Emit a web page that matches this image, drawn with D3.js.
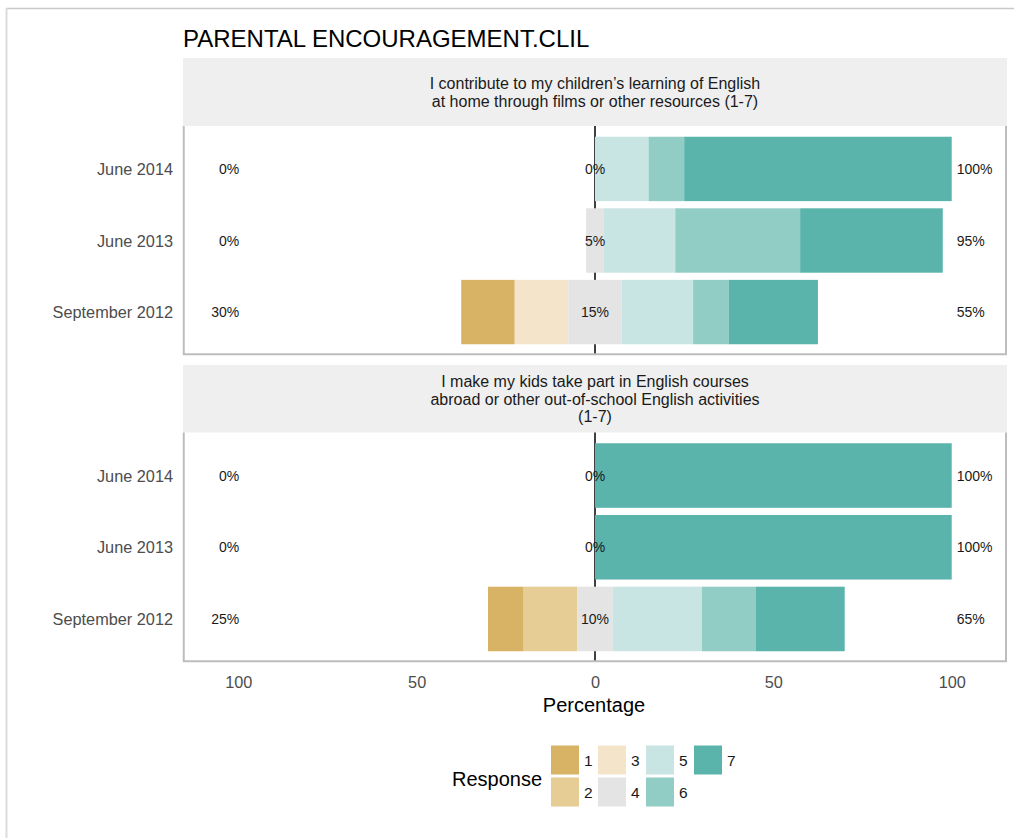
<!DOCTYPE html>
<html>
<head>
<meta charset="utf-8">
<script src="https://cdn.jsdelivr.net/npm/d3@7/dist/d3.min.js"></script>
<style>
  html, body { margin: 0; padding: 0; background: #fff; }
  svg { display: block; font-family: "Liberation Sans", Arial, sans-serif; }
</style>
</head>
<body>
<svg id="chart" width="1014" height="838"></svg>
<script>
// Survey waves (top to bottom within each panel)
const waves = ["June 2014", "June 2013", "September 2012"];

// Response levels 1..7 and their fills
const responses = ["1", "2", "3", "4", "5", "6", "7"];
const responseColors = ["#D8B365", "#E6CC95", "#F4E5CA", "#E4E4E4", "#C8E5E3", "#92CDC5", "#5AB4AC"];

// Panel titles (strip text, one array entry per line)
const items = [
  ["I contribute to my children’s learning of English", "at home through films or other resources (1-7)"],
  ["I make my kids take part in English courses", "abroad or other out-of-school English activities", "(1-7)"]
];

// Percent of answers per response level, one row per wave
const itemFilms = [
  [0, 0, 0, 0, 15, 10, 75],
  [0, 0, 0, 5, 20, 35, 40],
  [15, 0, 15, 15, 20, 10, 25]
];
const itemCourses = [
  [0, 0, 0, 0, 0, 0, 100],
  [0, 0, 0, 0, 0, 0, 100],
  [10, 15, 0, 10, 25, 15, 25]
];
const panelValues = [itemFilms, itemCourses];

const xTicks = [-100, -50, 0, 50, 100];

const svg = d3.select("#chart");

// outer frame lines
svg.append("line").attr("x1", 6).attr("x2", 1014).attr("y1", 8.5).attr("y2", 8.5)
  .attr("stroke", "#c9c9c9").attr("stroke-width", 1.5);
svg.append("line").attr("x1", 6.5).attr("x2", 6.5).attr("y1", 8).attr("y2", 838)
  .attr("stroke", "#dcdcdc").attr("stroke-width", 2);

const left = 183, right = 1007;
const x = d3.scaleLinear().domain([-115.5, 115.5]).range([left, right]);

// title
svg.append("text").attr("x", left).attr("y", 47)
  .attr("font-size", 24).attr("fill", "#000")
  .text("PARENTAL ENCOURAGEMENT.CLIL");

const panels = [
  { stripTop: 58, stripBottom: 126, plotBottom: 355 },
  { stripTop: 365, stripBottom: 432.5, plotBottom: 662 }
];

const labelSize = 14;

panels.forEach((p, pi) => {
  const g = svg.append("g");
  // strip
  g.append("rect").attr("x", left).attr("y", p.stripTop)
    .attr("width", right - left).attr("height", p.stripBottom - p.stripTop)
    .attr("fill", "#efefef");
  const lines = items[pi];
  const lh = 17.5;
  const mid = (p.stripTop + p.stripBottom) / 2;
  lines.forEach((ln, li) => {
    g.append("text")
      .attr("x", (left + right) / 2)
      .attr("y", mid + (li - (lines.length - 1) / 2) * lh + 6)
      .attr("text-anchor", "middle").attr("font-size", 16).attr("fill", "#1a1a1a")
      .text(ln);
  });

  const y = d3.scalePoint().domain(waves).range([p.stripBottom, p.plotBottom]).padding(0.6);
  const bh = y.step() * 0.9;

  // zero reference line (behind the bars)
  g.append("line").attr("x1", x(0)).attr("x2", x(0))
    .attr("y1", p.stripBottom).attr("y2", p.plotBottom)
    .attr("stroke", "#000").attr("stroke-width", 1.5);

  const vals = panelValues[pi];
  waves.forEach((w, wi) => {
    const v = vals[wi];
    const low = v[0] + v[1] + v[2];
    const neutral = v[3];
    const high = v[4] + v[5] + v[6];
    let start = -neutral / 2 - low;
    v.forEach((val, ri) => {
      if (val > 0) {
        g.append("rect")
          .attr("x", x(start)).attr("width", x(start + val) - x(start))
          .attr("y", y(w) - bh / 2).attr("height", bh)
          .attr("fill", responseColors[ri]);
      }
      start += val;
    });
    const ty = y(w) + 5;
    g.append("text").attr("x", x(-100) + 1).attr("y", ty)
      .attr("text-anchor", "end").attr("font-size", labelSize).attr("fill", "#1a1a1a").text(low + "%");
    g.append("text").attr("x", x(0)).attr("y", ty)
      .attr("text-anchor", "middle").attr("font-size", labelSize).attr("fill", "#1a1a1a").text(neutral + "%");
    g.append("text").attr("x", x(100) + 5).attr("y", ty)
      .attr("text-anchor", "start").attr("font-size", labelSize).attr("fill", "#1a1a1a").text(high + "%");

    // category label
    g.append("text").attr("x", 173).attr("y", y(w) + 6)
      .attr("text-anchor", "end").attr("font-size", 16.3).attr("fill", "#4d4d4d").text(w);
  });

  // panel border (left, right, bottom)
  g.append("path")
    .attr("d", `M${left + 0.75},${p.stripBottom} V${p.plotBottom - 0.75} H${right - 1} V${p.stripBottom}`)
    .attr("fill", "none").attr("stroke", "#bdbdbd").attr("stroke-width", 2);
});

// x axis (absolute percentages)
const axis = d3.axisBottom(x).tickValues(xTicks).tickSize(0).tickPadding(0)
  .tickFormat(d => Math.abs(d));
const ax = svg.append("g").attr("transform", `translate(0, 688)`).call(axis);
ax.select(".domain").remove();
ax.selectAll("text").attr("font-size", 16.3).attr("fill", "#4d4d4d")
  .attr("dy", 0).attr("font-family", "Liberation Sans, Arial, sans-serif");

svg.append("text").attr("x", (left + right) / 2 - 1).attr("y", 712)
  .attr("text-anchor", "middle").attr("font-size", 20).attr("fill", "#000").text("Percentage");

// legend
const lg = svg.append("g");
lg.append("text").attr("x", 452).attr("y", 786).attr("font-size", 20).attr("fill", "#000").text("Response");
const colX = [551, 598, 646, 694];
const rowY = [745.5, 777.5];
responses.forEach((r, i) => {
  const c = Math.floor(i / 2), rr = i % 2;
  lg.append("rect").attr("x", colX[c]).attr("y", rowY[rr]).attr("width", 28).attr("height", 29)
    .attr("fill", responseColors[i]);
  lg.append("text").attr("x", colX[c] + 33).attr("y", rowY[rr] + 20.5)
    .attr("font-size", 15.5).attr("fill", "#1a1a1a").text(r);
});
</script>
</body>
</html>
